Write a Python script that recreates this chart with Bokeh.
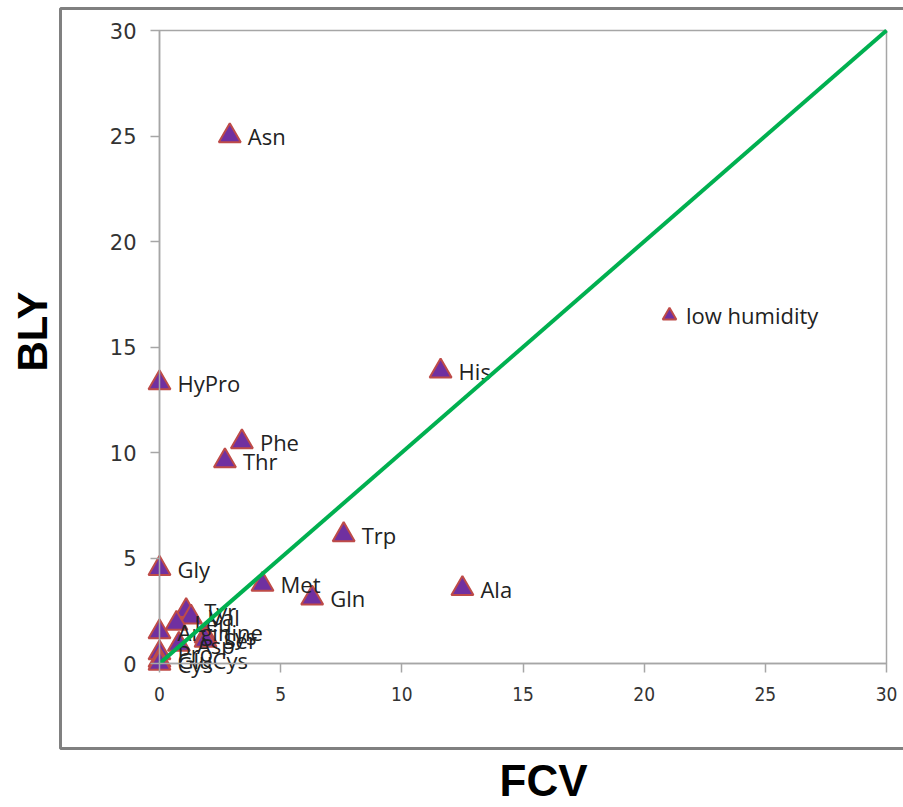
import math
from bokeh.plotting import figure
from bokeh.models import (Range1d, Label, BoxAnnotation, Legend, LegendItem,
                          ColumnDataSource, FixedTicker)
from bokeh.core.properties import value
from bokeh.embed import file_html
from bokeh.resources import INLINE

# ---- data ----
names = ["Asn", "HyPro", "His", "Phe", "Thr", "Trp", "Gly", "Met", "Gln", "Ala",
         "Tyr", "Val", "Leu", "Arginine", "Lys", "Ser", "Asp", "Pro", "GluCys", "Cys"]
fcv = [2.9, 0.0, 11.6, 3.4, 2.7, 7.6, 0.0, 4.25, 6.3, 12.5,
       1.1, 1.3, 0.7, 0.0, 1.9, 1.9, 0.8, 0.0, 0.0, 0.0]
bly = [25.0, 13.3, 13.85, 10.5, 9.6, 6.1, 4.5, 3.75, 3.1, 3.55,
       2.5, 2.2, 1.9, 1.5, 1.3, 1.1, 0.9, 0.5, 0.15, 0.0]
series_name = "low humidity"
x_ticks = [0, 5, 10, 15, 20, 25, 30]
y_ticks = [0, 5, 10, 15, 20, 25, 30]
x_title = "FCV"
y_title = "BLY"

# ---- layout (pixels on the 903x807 canvas) ----
W, H = 903, 807
PL, PT, PR, PB = 159, 30, 886, 663      # plot-area box edges
xs = (PR - PL) / (x_ticks[-1] - x_ticks[0])
ys = (PB - PT) / (y_ticks[-1] - y_ticks[0])
x_range = Range1d(x_ticks[0] - PL / xs, x_ticks[-1] + (W - PR) / xs)
y_range = Range1d(y_ticks[0] - (H - PB) / ys, y_ticks[-1] + PT / ys)

p = figure(width=W, height=H, output_backend="svg", toolbar_location=None,
           x_range=x_range, y_range=y_range,
           min_border_left=0, min_border_right=0, min_border_top=0,
           min_border_bottom=0)
p.background_fill_color = "white"
p.border_fill_color = "white"
p.outline_line_color = None
p.grid.visible = False

GRAY = "#a6a6a6"
for ax in (p.xaxis[0], p.yaxis[0]):
    ax.fixed_location = 0
    ax.axis_line_color = GRAY
    ax.axis_line_width = 1.5
    ax.major_tick_line_color = GRAY
    ax.major_tick_line_width = 1.5
    ax.major_tick_out = 9
    ax.major_tick_in = 0
    ax.minor_tick_line_color = None
    ax.major_label_text_color = "#333333"
p.xaxis.bounds = (x_ticks[0], x_ticks[-1])
p.yaxis.bounds = (y_ticks[0], y_ticks[-1])

p.xaxis.ticker = FixedTicker(ticks=x_ticks)
p.yaxis.ticker = FixedTicker(ticks=y_ticks)
p.xaxis.major_label_text_font = "DejaVu Sans Condensed, Liberation Sans"
p.xaxis.major_label_text_font_size = "19px"
p.xaxis.major_label_standoff = 14
p.yaxis.major_label_text_font = "DejaVu Sans"
p.yaxis.major_label_text_font_size = "21px"
p.yaxis.major_label_standoff = 14

# plot-area box (top and right edges)
p.add_layout(BoxAnnotation(left=x_ticks[0], right=x_ticks[-1],
                           bottom=y_ticks[0], top=y_ticks[-1],
                           fill_alpha=0, line_color=GRAY, line_alpha=1,
                           line_width=1.5, level="underlay"))

src = ColumnDataSource(dict(x=fcv, y=bly, name=names))
r = p.scatter("x", "y", source=src, marker="triangle", size=22,
              fill_color="#7030A0", line_color="#BE4B48", line_width=2)
p.text("x", "y", text="name", source=src, x_offset=18,
       text_font=value("Open Sans"), text_font_size="22px",
       text_baseline="middle", text_align="left", text_color="#222222")

# diagonal y = x across the axis span (drawn on top)
p.line([x_ticks[0], x_ticks[-1]], [y_ticks[0], y_ticks[-1]],
       line_color="#00B050", line_width=4)

legend = Legend(items=[LegendItem(label=series_name, renderers=[r])],
                location=(652, H - 332), orientation="vertical",
                border_line_color=None, background_fill_alpha=0,
                padding=0, margin=0, glyph_width=34, glyph_height=34,
                label_standoff=0, label_text_font="Open Sans",
                label_text_font_size="22px", label_text_color="#222222")
p.add_layout(legend, "center")

# screen units: measured from the frame's bottom-left corner (frame = canvas)
p.add_layout(Label(x=32, y=H - 331, x_units="screen", y_units="screen",
                   text=y_title, angle=math.pi / 2, text_align="center",
                   text_baseline="middle", text_font="Liberation Sans",
                   text_font_style="bold", text_font_size="42px", text_color="black"))
p.add_layout(Label(x=543, y=H - 780, x_units="screen", y_units="screen",
                   text=x_title, text_align="center", text_baseline="middle",
                   text_font="Liberation Sans", text_font_style="bold",
                   text_font_size="44px", text_color="black"))
# outer chart border
p.add_layout(BoxAnnotation(left=60, right=W + 20, top=H - 8, bottom=H - 748,
                           left_units="screen", right_units="screen",
                           top_units="screen", bottom_units="screen",
                           fill_alpha=0, line_color="#808080", line_alpha=1,
                           line_width=3))

open("out.html", "w").write(file_html(p, INLINE))
